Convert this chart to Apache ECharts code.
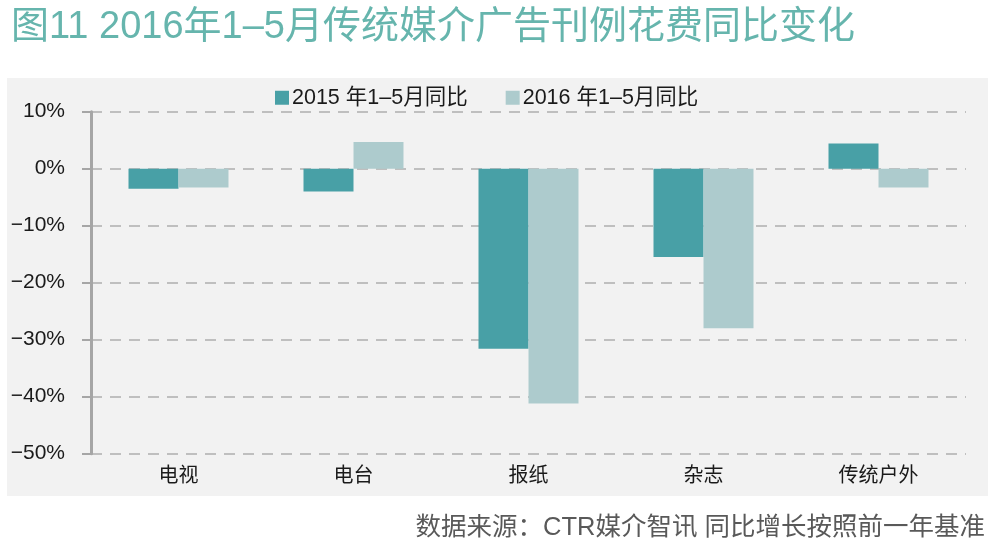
<!DOCTYPE html>
<html lang="zh">
<head>
    <meta charset="UTF-8">
    <title>图11</title>
    <style>
        html, body { margin: 0; padding: 0; background: #fff; }
        #main { width: 997px; height: 548px; }
    </style>
</head>
<body>
    <div id="main"></div>
    <script src="https://cdn.jsdelivr.net/npm/echarts@6/dist/echarts.min.js"></script>
    <script>
        // 数据
        var categories = ['电视', '电台', '报纸', '杂志', '传统户外'];
        var seriesNames = ['2015 年1–5月同比', '2016 年1–5月同比'];
        var yoy2015 = [-3.5, -4.0, -31.6, -15.5, 4.4];
        var yoy2016 = [-3.3, 4.7, -41.2, -28.0, -3.3];

        var font = 'Liberation Sans, "Noto Sans CJK SC", sans-serif';
        var myChart = echarts.init(document.getElementById('main'));

        var option = {
            backgroundColor: '#fff',
            textStyle: { fontFamily: font },
            title: [{
                text: '图11 2016年1–5月传统媒介广告刊例花费同比变化',
                left: 6,
                top: 4,
                textStyle: { color: '#66b5ad', fontSize: 38, fontWeight: 'normal', fontFamily: font }
            }, {
                text: '数据来源：CTR媒介智讯 同比增长按照前一年基准',
                right: 7,
                top: 510,
                textStyle: { color: '#595959', fontSize: 25.5, fontWeight: 'normal', fontFamily: font }
            }],
            graphic: [{
                type: 'rect',
                z: -10,
                shape: { x: 7, y: 78, width: 981, height: 418 },
                style: { fill: '#f2f2f2' }
            }],
            legend: {
                data: seriesNames,
                left: 270,
                top: 82,
                itemWidth: 14,
                itemHeight: 14,
                itemGap: 38,
                icon: 'rect',
                textStyle: { fontSize: 21.5, color: '#1a1a1a', fontFamily: font, padding: [0, 0, 0, -2] }
            },
            grid: { left: 91, right: 31, top: 111.7, bottom: 94.3 },
            xAxis: {
                type: 'category',
                data: categories,
                axisLine: { show: false },
                axisTick: { show: false },
                axisLabel: { fontSize: 20, color: '#1a1a1a', margin: 13, fontFamily: font }
            },
            yAxis: {
                type: 'value',
                min: -50,
                max: 10,
                interval: 10,
                axisLine: { show: true, lineStyle: { color: '#a6a6a6', width: 3 } },
                axisTick: { show: true, length: 9, lineStyle: { color: '#a6a6a6', width: 2 } },
                axisLabel: {
                    fontSize: 21,
                    color: '#1a1a1a',
                    margin: 26,
                    fontFamily: font,
                    formatter: function (v) { return String(v).replace('-', '−') + '%'; }
                },
                splitLine: { lineStyle: { color: '#bfbfbf', width: 2, type: [11, 8] } }
            },
            series: [{
                name: seriesNames[0],
                type: 'bar',
                data: yoy2015,
                barWidth: 50,
                barGap: '0%',
                itemStyle: { color: '#48a0a6' }
            }, {
                name: seriesNames[1],
                type: 'bar',
                data: yoy2016,
                barWidth: 50,
                itemStyle: { color: '#adcbcd' }
            }]
        };
        myChart.setOption(option);
    </script>
</body>
</html>
